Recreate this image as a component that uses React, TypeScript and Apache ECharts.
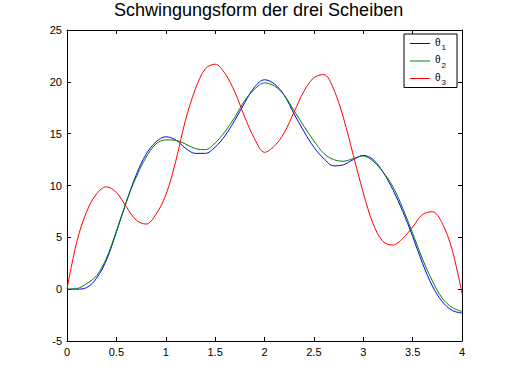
import React, { useEffect, useRef } from "react";
import * as echarts from "echarts";

const xs = [
  0, 0.1, 0.2, 0.3, 0.4, 0.5, 0.6, 0.7, 0.8, 0.9,
  1.0, 1.1, 1.2, 1.3, 1.4, 1.5, 1.6, 1.7, 1.8, 1.9,
  2.0, 2.1, 2.2, 2.3, 2.4, 2.5, 2.6, 2.7, 2.8, 2.9,
  3.0, 3.1, 3.2, 3.3, 3.4, 3.5, 3.6, 3.7, 3.8, 3.9, 4.0,
];

const theta1 = [
  0, 0, 0.16, 1.06, 2.82, 5.5, 8.4, 11.0, 13.0, 14.2,
  14.7, 14.4, 13.6, 13.1, 13.1, 13.7, 14.8, 16.3, 18.0, 19.5,
  20.2, 19.8, 18.7, 16.9, 15.2, 13.7, 12.6, 11.9, 12.0, 12.5,
  12.9, 12.5, 11.3, 9.6, 7.5, 5.1, 2.5, 0.3, -1.2, -2.05, -2.3,
];

const theta2 = [
  0, 0.06, 0.54, 1.3, 3.0, 5.6, 8.4, 10.8, 12.7, 14.0,
  14.4, 14.36, 14.0, 13.56, 13.46, 14.1, 15.2, 16.6, 18.2, 19.3,
  19.9, 19.6, 18.7, 17.2, 15.7, 14.3, 13.1, 12.5, 12.34, 12.6,
  12.85, 12.34, 11.3, 9.9, 7.8, 5.4, 2.9, 0.8, -0.87, -1.76, -2.15,
];

const theta3 = [
  0, 4.6, 7.5, 9.2, 9.87, 9.33, 7.95, 6.67, 6.28, 7.21,
  9.07, 12.3, 16.3, 19.3, 21.25, 21.7, 20.8, 19.0, 16.6, 14.5,
  13.2, 13.8, 15.1, 17.1, 19.1, 20.4, 20.7, 19.3, 16.5, 12.9,
  9.3, 6.3, 4.6, 4.26, 4.9, 6.0, 7.2, 7.47, 6.35, 3.8, -0.4,
];

const seriesNames = ["θ1", "θ2", "θ3"];
const seriesColors = ["#0000ff", "#008000", "#ff0000"];
const xTicks = { min: 0, max: 4, interval: 0.5 };
const yTicks = { min: -5, max: 25, interval: 5 };
const titleText = "Schwingungsform der drei Scheiben";

const FONT = "Liberation Sans, Arial, Helvetica, sans-serif";

export default function App() {
  const ref = useRef<HTMLDivElement>(null);
  useEffect(() => {
    if (!ref.current) return;
    const chart = echarts.init(ref.current, undefined, { renderer: "svg" });
    const values = [theta1, theta2, theta3];
    const axisCommon = {
      type: "value" as const,
      axisLine: { show: true, onZero: false, lineStyle: { color: "#000", width: 1 } },
      axisTick: { show: true, inside: true, length: 4, lineStyle: { color: "#000" } },
      splitLine: { show: false },
    };
    chart.setOption({
      animation: false,
      backgroundColor: "#ffffff",
      textStyle: { fontFamily: FONT },
      title: {
        text: titleText,
        left: 114,
        top: 1,
        padding: [0, 0, 0, 0],
        textStyle: { fontFamily: FONT, fontSize: 18, fontWeight: "normal", color: "#000" },
      },
      grid: { left: 67, right: 50, top: 30, bottom: 43, containLabel: false },
      legend: {
        orient: "vertical",
        left: 404,
        top: 34,
        padding: [3, 11, 1, 6],
        icon: "rect",
        itemWidth: 20,
        itemHeight: 1,
        itemGap: 3,
        itemStyle: { borderWidth: 0 },
        borderColor: "#000",
        borderWidth: 1,
        backgroundColor: "#fff",
        borderRadius: 0,
        data: seriesNames,
        formatter: (n: string) => "{t|θ}{s|" + n.slice(1) + "}",
        textStyle: {
          color: "#000",
          fontFamily: FONT,
          rich: {
            t: { fontSize: 10, fontFamily: FONT, color: "#000", padding: [0, 0, 3, 0] },
            s: { fontSize: 8, fontFamily: FONT, color: "#000", padding: [8, 0, 0, 1] },
          },
        },
      },
      xAxis: [
        {
          ...axisCommon,
          position: "bottom",
          min: xTicks.min,
          max: xTicks.max,
          interval: xTicks.interval,
          axisLabel: { show: true, color: "#000", fontSize: 11, fontFamily: FONT, margin: 5 },
        },
        {
          ...axisCommon,
          position: "top",
          min: xTicks.min,
          max: xTicks.max,
          interval: xTicks.interval,
          axisLabel: { show: false },
        },
      ],
      yAxis: [
        {
          ...axisCommon,
          position: "left",
          min: yTicks.min,
          max: yTicks.max,
          interval: yTicks.interval,
          axisLabel: { show: true, color: "#000", fontSize: 11, fontFamily: FONT, margin: 5 },
        },
        {
          ...axisCommon,
          position: "right",
          min: yTicks.min,
          max: yTicks.max,
          interval: yTicks.interval,
          axisLabel: { show: false },
        },
      ],
      series: seriesNames.map((name, i) => ({
        name,
        type: "line",
        xAxisIndex: 0,
        yAxisIndex: 0,
        symbol: "none",
        showSymbol: false,
        smooth: 0.35,
        lineStyle: { color: seriesColors[i], width: 1 },
        itemStyle: { color: seriesColors[i] },
        data: xs.map((x, j) => [x, values[i][j]]),
      })),
    });
    return () => chart.dispose();
  }, []);
  return (
    <div
      ref={ref}
      style={{ position: "fixed", left: 0, top: 0, width: 512, height: 384 }}
    />
  );
}
